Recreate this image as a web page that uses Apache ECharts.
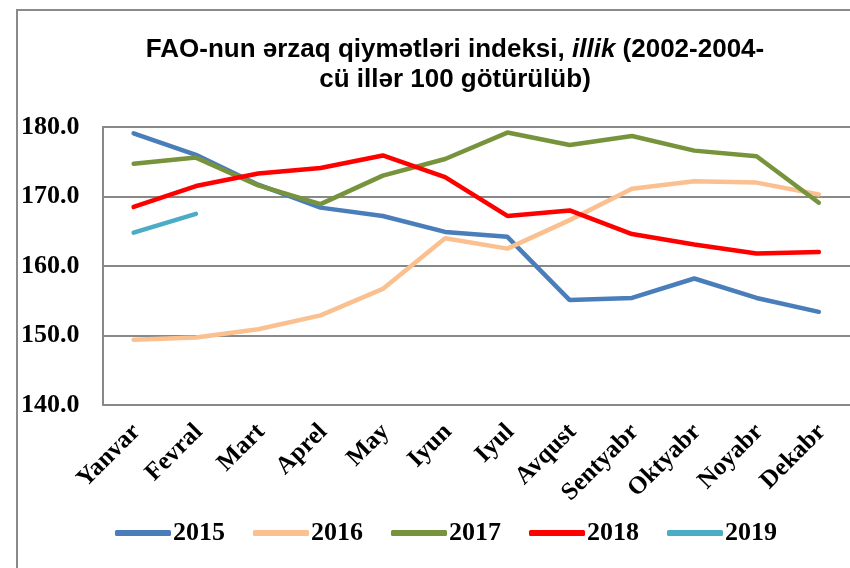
<!DOCTYPE html>
<html><head><meta charset="utf-8">
<script src="https://cdn.jsdelivr.net/npm/echarts@6/dist/echarts.min.js"></script>
<style>html,body{margin:0;padding:0;background:#fff}#c{width:850px;height:568px}</style>
</head><body><div id="c"></div>
<script>
const months = ['Yanvar','Fevral','Mart','Aprel','May','Iyun','Iyul','Avqust','Sentyabr','Oktyabr','Noyabr','Dekabr'];
const yearNames = ['2015','2016','2017','2018','2019'];
const v2015 = [179.1,176.0,171.7,168.4,167.2,164.9,164.2,155.1,155.4,158.2,155.4,153.4];
const v2016 = [149.4,149.7,150.9,152.9,156.7,164.0,162.5,166.6,171.1,172.2,172.0,170.3];
const v2017 = [174.7,175.6,171.6,168.9,173.0,175.4,179.2,177.4,178.7,176.6,175.8,169.1];
const v2018 = [168.5,171.5,173.3,174.1,175.9,172.8,167.2,168.0,164.6,163.1,161.8,162.0];
const v2019 = [164.8,167.5];
const colors = ['#4a7ebb','#fac090','#77933c','#ff0000','#4bacc6'];
const yTicks = {min:140, max:180, interval:10};

const chart = echarts.init(document.getElementById('c'));
const allData = [v2015,v2016,v2017,v2018,v2019];
chart.setOption({
  animation:false,
  graphic:[{type:'rect',shape:{x:17,y:10,width:900,height:600},style:{fill:'none',stroke:'#8a8a8a',lineWidth:2},silent:true}],
  title:{
    text:'FAO-nun ərzaq qiymətləri indeksi, {i|illik} (2002-2004-\ncü illər 100 götürülüb)',
    left:450, textAlign:'center', top:30,
    textStyle:{fontFamily:'Liberation Sans',fontWeight:'bold',fontSize:26,color:'#000',lineHeight:30,
      rich:{i:{fontFamily:'Liberation Sans',fontWeight:'bold',fontStyle:'italic',fontSize:26,color:'#000',lineHeight:30}}}
  },
  legend:{
    left:110, top:515, itemWidth:56, itemHeight:6, itemGap:28,
    icon:'roundRect',
    textStyle:{fontFamily:'Liberation Serif',fontWeight:'bold',fontSize:26,color:'#000',padding:[0,0,0,-3]},
    data:yearNames
  },
  grid:{left:102.5, top:127, width:756, height:278, containLabel:false},
  xAxis:{
    type:'category', data:months, boundaryGap:true,
    axisLine:{show:false}, axisTick:{show:false},
    axisLabel:{rotate:45, margin:26, interval:0, padding:[8,-4,0,0], fontFamily:'Liberation Serif',fontWeight:'bold',fontSize:25,color:'#000'}
  },
  yAxis:{
    type:'value', min:yTicks.min, max:yTicks.max, interval:yTicks.interval,
    axisLine:{show:true,lineStyle:{color:'#888',width:2}}, axisTick:{show:false},
    splitLine:{lineStyle:{color:'#888',width:2}},
    axisLabel:{margin:23, formatter:v=>v.toFixed(1), fontFamily:'Liberation Serif',fontWeight:'bold',fontSize:26,color:'#000'}
  },
  series: yearNames.map((n,i)=>({
    name:n, type:'line', data:allData[i], symbol:'none', smooth:false,
    lineStyle:{color:colors[i],width:4.5,cap:'round'}, itemStyle:{color:colors[i]}
  }))
});
</script></body></html>
